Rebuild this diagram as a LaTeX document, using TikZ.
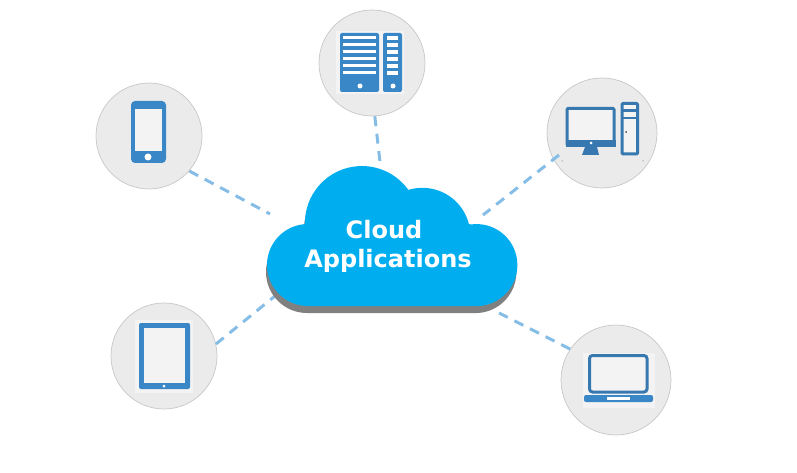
\documentclass[tikz,border=0pt]{standalone}
\usepackage{fontspec}
\setmainfont{DejaVu Sans}
\definecolor{cloudblue}{HTML}{00AEEF}
\definecolor{iconblue}{HTML}{3A87C8}
\definecolor{pcblue}{HTML}{3878B0}
\definecolor{linkblue}{HTML}{85BDE6}
\definecolor{discgray}{HTML}{EBEBEB}
\definecolor{screengray}{HTML}{F3F3F3}
\newcommand{\cloudpath}{(308,306) arc (90:270:41) -- (305,226) arc (177:324:57) -- (408,190) arc (252.6:345.7:48) -- (470.5,224.5) arc (261.7:450:41) -- cycle}
\begin{document}
\begin{tikzpicture}[x=1pt,y=-1pt,
    disc/.style={circle, draw=black!22, fill=discgray, line width=.7pt, inner sep=0pt},
    link/.style={draw=linkblue, line width=3pt, dash pattern=on 10pt off 7.5pt},
    icon/.style={fill=iconblue, rounded corners=2pt},
    pcicon/.style={draw=pcblue, fill=screengray, line width=3pt, rounded corners=1pt}]
\useasboundingbox (0,0) rectangle (797,473);

\node[disc, minimum size=106pt] (server) at (372,63) {};
\node[disc, minimum size=110pt] (desktop) at (602,133) {};
\node[disc, minimum size=110pt] (laptop) at (616,380) {};
\node[disc, minimum size=106pt] (phone) at (149,136) {};
\node[disc, minimum size=106pt] (tablet) at (164,356) {};

\coordinate (desktopend) at (559,155);
\coordinate (cloudN) at (380,162);
\coordinate (cloudNE) at (483,215);
\coordinate (cloudSE) at (499,313);
\coordinate (cloudNW) at (270,214);
\coordinate (cloudSW) at (275,296);

\draw[link](server.-87)--(cloudN);
\draw[link](desktopend)--(cloudNE);
\draw[link](laptop.146)--(cloudSE);
\draw[link](phone.-41)--(cloudNW);
\draw[link](tablet.13)--(cloudSW);

% cloud
\fill[black!50, xshift=-1pt, yshift=-7pt] \cloudpath;
\fill[cloudblue] \cloudpath;
\node[text=white, font=\bfseries\fontsize{24}{29}\selectfont, align=center, inner sep=0pt] (cloudtext) at (388,246) {Cloud\kern8pt\\Applications};

% server
\fill[screengray] (336,31) rectangle (404,94);
\fill[icon] (340,33) rectangle (379,92);
\fill[icon] (383,33) rectangle (402,92);
\foreach \y in {38,45,52,59,66,73}
{
    \fill[white] (343,\y-1.5) rectangle (376,\y+1.5);
    \fill[white] (387,\y-1.75) rectangle (398,\y+1.75);
}
\fill[white] (360,86) circle (2.5pt);
\fill[white] (393,86) circle (2.5pt);

% desktop
\draw[pcicon] (567,108.5) rectangle (614,145);
\fill[pcblue] (565.5,140) rectangle (615.5,147);
\fill[white] (591,143) circle (1.5pt);
\fill[pcblue] (585,147)--(597,147)--(599,155)--(582,155)--cycle;
\draw[pcicon] (622,103.5) rectangle (637.5,154);
\draw[pcblue, line width=2.5pt] (622,110.5)--(637.5,110.5);
\draw[pcblue, line width=2.5pt] (622,118)--(637.5,118);
\fill[black!70] (626,132) circle (1pt);
\fill[black!70] (562,161) circle (.5pt);
\fill[black!70] (643,161) circle (.5pt);

% laptop
\fill[screengray] (583,353) rectangle (655,408);
\draw[pcicon, rounded corners=3pt] (589.5,355.5) rectangle (647,392);
\fill[icon] (584,395) rectangle (653,402);
\fill[white] (607,396.5) rectangle (630,399.5);

% phone
\fill[icon, rounded corners=4pt] (131,101) rectangle (166,163);
\fill[screengray] (135,109) rectangle (162,151);
\fill[white] (148,157) circle (3.5pt);

% tablet
\fill[screengray] (135,320) rectangle (193,393);
\fill[icon] (139,323) rectangle (190,389);
\fill[screengray] (144,328) rectangle (185,383);
\fill[white] (164,386) circle (1.5pt);
\end{tikzpicture}
\end{document}
